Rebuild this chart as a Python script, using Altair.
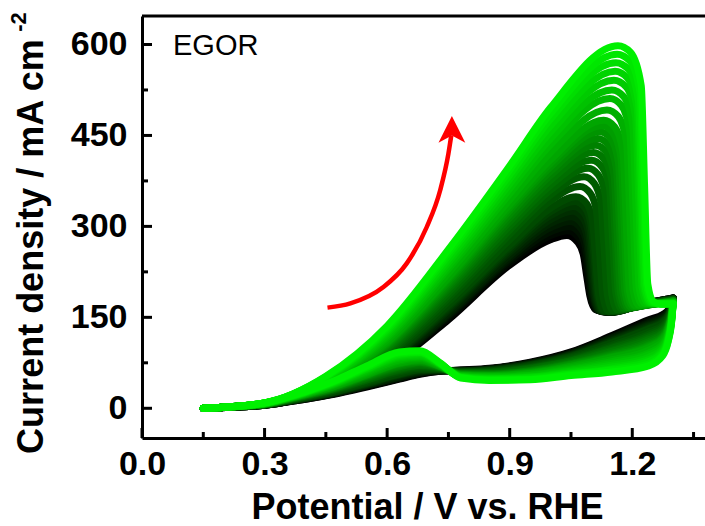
import altair as alt
import pandas as pd

# Repeated CV cycles of ethylene-glycol oxidation, first (black) to last (green)
N_CYCLES = 27

# Forward scan: shared potentials below the oxidation peak (V vs. RHE)
FWD_E = [0.15, 0.30, 0.45, 0.60, 0.75, 0.90, 1.00]
# Current density (mA cm-2) at each FWD_E potential, one value per cycle (first -> last)
FWD_J = [
    [0, 0, 0, 0, 0, 0, 0, 0, 0, 0, 0, 0, 0, 0, 0, 0, 0, 0, 0, 0, 0, 0, 0, 0, 0, 0, 0],
    [5, 5, 5, 5, 5, 6, 6, 6, 6, 6, 6, 6, 7, 7, 7, 7, 7, 7, 7, 8, 8, 8, 8, 8, 9, 9, 9],
    [27, 28, 28, 29, 30, 30, 31, 32, 32, 34, 35, 36, 37, 38, 39, 40, 41, 42, 43, 44, 46, 47, 48, 50, 51, 52, 53],
    [68, 70, 71, 73, 75, 77, 78, 80, 82, 86, 89, 92, 95, 98, 100, 103, 105, 107, 109, 113, 117, 120, 124, 127, 130, 133, 136],
    [146, 149, 152, 154, 157, 161, 164, 167, 170, 176, 182, 187, 192, 197, 201, 205, 209, 213, 216, 223, 230, 235, 241, 246, 252, 257, 262],
    [236, 240, 244, 248, 252, 257, 261, 265, 269, 278, 287, 294, 301, 308, 314, 320, 326, 331, 336, 344, 354, 362, 370, 378, 385, 393, 400],
    [278, 285, 291, 298, 305, 311, 318, 324, 330, 342, 352, 360, 368, 376, 384, 391, 398, 404, 410, 422, 435, 445, 456, 466, 477, 486, 496],
]

# Forward scan from the peak onward: (potential, current density) per cycle
TAILS = [
    [(1.040, 285), (1.066, 274), (1.080, 254), (1.088, 220), (1.096, 186), (1.110, 163), (1.140, 158), (1.200, 167), (1.260, 177), (1.300, 182)],
    [(1.042, 293), (1.068, 282), (1.082, 261), (1.090, 224), (1.098, 186), (1.112, 162), (1.142, 158), (1.200, 167), (1.260, 177), (1.300, 182)],
    [(1.045, 300), (1.071, 289), (1.085, 267), (1.093, 227), (1.101, 186), (1.115, 162), (1.145, 158), (1.200, 167), (1.260, 177), (1.300, 182)],
    [(1.048, 308), (1.074, 297), (1.088, 274), (1.096, 230), (1.104, 186), (1.118, 161), (1.148, 158), (1.200, 166), (1.260, 176), (1.300, 181)],
    [(1.050, 316), (1.076, 305), (1.090, 281), (1.098, 234), (1.106, 186), (1.120, 161), (1.150, 159), (1.200, 166), (1.260, 176), (1.300, 181)],
    [(1.053, 325), (1.079, 314), (1.093, 289), (1.101, 238), (1.109, 186), (1.123, 160), (1.153, 159), (1.200, 166), (1.260, 176), (1.300, 181)],
    [(1.056, 333), (1.082, 322), (1.096, 296), (1.104, 241), (1.112, 186), (1.126, 160), (1.156, 159), (1.200, 166), (1.260, 176), (1.300, 180)],
    [(1.059, 341), (1.085, 330), (1.099, 303), (1.107, 245), (1.115, 186), (1.129, 160), (1.158, 160), (1.200, 166), (1.260, 175), (1.300, 180)],
    [(1.062, 349), (1.088, 338), (1.102, 311), (1.110, 249), (1.118, 186), (1.132, 160), (1.160, 160), (1.200, 166), (1.260, 175), (1.300, 180)],
    [(1.072, 366), (1.097, 355), (1.112, 326), (1.120, 256), (1.128, 186), (1.142, 160), (1.200, 166), (1.260, 175), (1.300, 179)],
    [(1.082, 382), (1.107, 371), (1.123, 340), (1.131, 264), (1.139, 187), (1.153, 161), (1.200, 166), (1.260, 175), (1.300, 179)],
    [(1.092, 396), (1.117, 385), (1.134, 352), (1.142, 270), (1.150, 188), (1.164, 162), (1.210, 167), (1.260, 174), (1.300, 178)],
    [(1.100, 409), (1.126, 398), (1.144, 364), (1.152, 277), (1.160, 189), (1.174, 164), (1.220, 168), (1.260, 174), (1.300, 178)],
    [(1.105, 422), (1.131, 411), (1.150, 376), (1.158, 283), (1.166, 190), (1.180, 165), (1.225, 169), (1.300, 177)],
    [(1.110, 434), (1.136, 423), (1.155, 386), (1.163, 289), (1.171, 191), (1.185, 166), (1.230, 170), (1.300, 177)],
    [(1.115, 445), (1.142, 434), (1.161, 396), (1.169, 294), (1.177, 192), (1.191, 166), (1.235, 170), (1.300, 177)],
    [(1.120, 456), (1.147, 445), (1.166, 406), (1.174, 299), (1.182, 192), (1.196, 167), (1.240, 171), (1.300, 177)],
    [(1.125, 466), (1.152, 455), (1.172, 415), (1.180, 304), (1.188, 193), (1.202, 168), (1.245, 171), (1.300, 176)],
    [(1.130, 475), (1.157, 464), (1.177, 423), (1.185, 309), (1.193, 194), (1.207, 169), (1.250, 172), (1.300, 176)],
    [(1.138, 492), (1.166, 481), (1.186, 438), (1.194, 317), (1.202, 195), (1.216, 170), (1.260, 173), (1.300, 175)],
    [(1.145, 511), (1.173, 500), (1.194, 455), (1.202, 326), (1.210, 197), (1.224, 172), (1.260, 173), (1.300, 175)],
    [(1.150, 525), (1.179, 514), (1.201, 467), (1.209, 333), (1.217, 198), (1.231, 173), (1.265, 173), (1.300, 174)],
    [(1.155, 541), (1.185, 530), (1.208, 481), (1.216, 341), (1.224, 200), (1.238, 174), (1.270, 173), (1.300, 174)],
    [(1.158, 556), (1.188, 545), (1.212, 495), (1.220, 349), (1.228, 201), (1.242, 174), (1.270, 172), (1.300, 173)],
    [(1.160, 570), (1.191, 559), (1.215, 507), (1.223, 355), (1.231, 202), (1.245, 175), (1.270, 172), (1.300, 173)],
    [(1.163, 584), (1.194, 573), (1.219, 520), (1.227, 362), (1.235, 204), (1.249, 175), (1.270, 172), (1.300, 172)],
    [(1.165, 598), (1.196, 587), (1.222, 532), (1.230, 370), (1.238, 205), (1.252, 176), (1.270, 172), (1.300, 172)],
]

# Reverse scan potentials (V vs. RHE)
REV_E = [1.300, 1.296, 1.288, 1.275, 1.24, 1.15, 1.05, 0.95, 0.85, 0.78,
         0.73, 0.68, 0.63, 0.55, 0.47, 0.40, 0.30, 0.15]
# Current density at each REV_E potential, one value per cycle (first -> last)
REV_J = [
    [182, 182, 182, 181, 181, 181, 180, 180, 180, 179, 179, 178, 178, 177, 177, 177, 177, 176, 176, 175, 175, 174, 174, 173, 173, 172, 172],
    [172, 171, 170, 170, 169, 168, 167, 166, 165, 164, 162, 161, 159, 158, 157, 156, 155, 154, 153, 151, 149, 147, 146, 144, 143, 141, 140],
    [162, 161, 160, 158, 157, 155, 154, 153, 151, 149, 146, 144, 141, 139, 137, 135, 134, 132, 130, 128, 124, 122, 119, 117, 115, 112, 110],
    [155, 153, 152, 150, 148, 146, 145, 143, 141, 137, 134, 131, 128, 125, 123, 120, 118, 116, 114, 110, 106, 103, 99, 96, 93, 90, 87],
    [146, 144, 142, 140, 138, 136, 134, 132, 131, 126, 122, 119, 116, 113, 110, 107, 104, 102, 100, 96, 91, 88, 84, 80, 77, 73, 70],
    [120, 118, 117, 116, 114, 112, 111, 109, 108, 104, 101, 99, 96, 94, 91, 89, 87, 85, 84, 80, 77, 74, 71, 68, 65, 63, 60],
    [93, 92, 91, 90, 89, 88, 87, 86, 85, 83, 81, 79, 78, 76, 74, 73, 72, 70, 69, 67, 65, 63, 61, 59, 57, 56, 54],
    [76, 75, 75, 74, 73, 72, 72, 71, 70, 68, 67, 66, 65, 63, 62, 61, 60, 59, 58, 57, 55, 54, 52, 51, 50, 48, 47],
    [66, 65, 65, 65, 64, 63, 63, 62, 62, 61, 60, 59, 58, 57, 56, 56, 55, 54, 54, 53, 52, 51, 50, 49, 48, 47, 46],
    [63, 63, 62, 62, 62, 61, 61, 61, 60, 60, 59, 58, 58, 57, 57, 56, 56, 55, 55, 54, 54, 53, 52, 52, 51, 51, 50],
    [61, 61, 62, 62, 62, 63, 63, 64, 64, 65, 65, 66, 67, 67, 68, 68, 69, 69, 69, 70, 71, 72, 72, 73, 74, 74, 75],
    [56, 57, 58, 59, 60, 61, 62, 63, 64, 66, 68, 70, 71, 73, 75, 76, 77, 79, 80, 82, 84, 86, 88, 90, 92, 93, 95],
    [48, 49, 50, 51, 52, 54, 55, 56, 57, 60, 62, 64, 66, 68, 69, 71, 73, 74, 75, 78, 80, 83, 85, 87, 89, 91, 93],
    [35, 36, 37, 38, 38, 39, 40, 41, 42, 44, 46, 47, 49, 50, 52, 53, 54, 55, 56, 58, 60, 62, 64, 65, 67, 68, 70],
    [23, 24, 24, 25, 25, 26, 26, 27, 27, 29, 30, 31, 32, 33, 33, 34, 35, 36, 36, 38, 39, 40, 41, 42, 43, 44, 45],
    [15, 15, 16, 16, 16, 17, 17, 17, 18, 18, 19, 20, 20, 21, 21, 22, 22, 23, 23, 24, 24, 25, 26, 26, 27, 27, 28],
    [6, 6, 6, 6, 6, 6, 6, 7, 7, 7, 7, 7, 7, 7, 7, 8, 8, 8, 8, 8, 8, 8, 8, 9, 9, 9, 9],
    [0, 0, 0, 0, 0, 0, 0, 0, 0, 0, 0, 0, 0, 0, 0, 0, 0, 0, 0, 0, 0, 0, 0, 0, 0, 0, 0],
]

# Red "increasing cycles" arrow path
ARROW_E = [0.454, 0.510, 0.591, 0.648, 0.697, 0.730, 0.750, 0.757]
ARROW_J = [166, 173, 200, 239, 299, 360, 420, 450]
ARROW_TIP = (0.7585, 460)

X_TICKS = [0.0, 0.3, 0.6, 0.9, 1.2]
X_MINOR = [0.15, 0.45, 0.75, 1.05, 1.35]
Y_TICKS = [0, 150, 300, 450, 600]
Y_MINOR = [75, 225, 375, 525]

FONT = "Liberation Sans"
W, H = 563, 422

rows = []
for k in range(N_CYCLES):
    fwd = [(e, col[k]) for e, col in zip(FWD_E, FWD_J)] + TAILS[k]
    rev = [(e, col[k]) for e, col in zip(REV_E, REV_J)]
    for e, j in fwd:
        rows.append({"E": e, "J": j, "cycle": k, "seg": f"{k:02d}a"})
    for e, j in rev:
        rows.append({"E": e, "J": j, "cycle": k, "seg": f"{k:02d}b"})
cv = pd.DataFrame(rows)

x_scale = alt.Scale(domain=[0, 1.378], nice=False, zero=False)
y_scale = alt.Scale(domain=[-49, 647], nice=False, zero=False)

x_axis = alt.Axis(
    values=X_TICKS, format=".1f", ticks=False, grid=False,
    domainColor="black", domainWidth=3,
    labelFont=FONT, labelFontSize=34, labelFontWeight="bold", labelColor="black",
    labelPadding=9, labelFlush=False,
    title="Potential / V vs. RHE", titleFont=FONT, titleFontSize=36,
    titleFontWeight="bold", titleColor="black",
    titleX=285, titleY=80, titleBaseline="alphabetic",
)
y_axis = alt.Axis(
    values=Y_TICKS, ticks=False, grid=False,
    domainColor="black", domainWidth=3,
    labelFont=FONT, labelFontSize=34, labelFontWeight="bold", labelColor="black",
    labelPadding=15, labelFlush=False,
    title="Current density / mA cm", titleFont=FONT, titleFontSize=36,
    titleFontWeight="bold", titleColor="black",
    titleX=-100, titleY=230, titleBaseline="alphabetic", titleAngle=270,
)


def xe(field):
    return alt.X(field, scale=x_scale, axis=x_axis)


def ye(field):
    return alt.Y(field, scale=y_scale, axis=y_axis)


curves = alt.Chart(cv).mark_line(
    strokeWidth=7, strokeCap="round", strokeJoin="round", interpolate="monotone"
).encode(
    x=xe("E:Q"),
    y=ye("J:Q"),
    detail="seg:N",
    order=alt.Order("E:Q", sort="ascending"),
    color=alt.Color(
        "cycle:Q",
        scale=alt.Scale(domain=[0, N_CYCLES - 1], range=["#000000", "#00f000"], interpolate="rgb"),
        legend=None,
    ),
)

arrow_df = pd.DataFrame({"E": ARROW_E, "J": ARROW_J})
shaft = alt.Chart(arrow_df).mark_line(
    color="#ff0000", strokeWidth=4.5, interpolate="monotone"
).encode(x=xe("E:Q"), y=ye("J:Q"), order="E:Q")

head = alt.Chart(pd.DataFrame({"E": [ARROW_TIP[0]], "J": [ARROW_TIP[1]]})).mark_point(
    shape="M0,-1L1,1L0,0.45L-1,1Z", size=720, filled=True, color="#ff0000", opacity=1
).encode(x=xe("E:Q"), y=ye("J:Q"))

label = alt.Chart(pd.DataFrame({"t": ["EGOR"]})).mark_text(
    font=FONT, fontSize=29, align="left", baseline="alphabetic", color="black"
).encode(text="t:N", x=alt.value(31), y=alt.value(39))

# superscript exponent of the y-axis unit
unit_exp = alt.Chart(pd.DataFrame({"t": ["-2"]})).mark_text(
    font=FONT, fontSize=22, fontWeight="bold", angle=270, align="center",
    baseline="alphabetic", color="black"
).encode(text="t:N", x=alt.value(-116), y=alt.value(6))

top_border = alt.Chart(pd.DataFrame({"a": [0]})).mark_rule(
    color="black", strokeWidth=3
).encode(x=alt.value(0), x2=alt.value(W), y=alt.value(0))

# inward-pointing tick marks
y_major = alt.Chart(pd.DataFrame({"v": Y_TICKS})).mark_rule(color="black", strokeWidth=3).encode(
    y=ye("v:Q"), x=alt.value(0), x2=alt.value(10))
y_minor = alt.Chart(pd.DataFrame({"v": Y_MINOR})).mark_rule(color="black", strokeWidth=3).encode(
    y=ye("v:Q"), x=alt.value(0), x2=alt.value(6))
x_major = alt.Chart(pd.DataFrame({"v": X_TICKS})).mark_rule(color="black", strokeWidth=3).encode(
    x=xe("v:Q"), y=alt.value(H), y2=alt.value(H - 10))
x_minor = alt.Chart(pd.DataFrame({"v": X_MINOR})).mark_rule(color="black", strokeWidth=3).encode(
    x=xe("v:Q"), y=alt.value(H), y2=alt.value(H - 6))

chart = alt.layer(
    curves, shaft, head, label, unit_exp, top_border, y_major, y_minor, x_major, x_minor
).properties(
    width=W, height=H,
    autosize=alt.AutoSizeParams(type="none"),
    padding={"left": 142, "top": 16, "right": 0, "bottom": 88},
    background="white",
).configure_view(stroke=None)

chart.save("out.html", embed_options={"renderer": "svg", "actions": False})
